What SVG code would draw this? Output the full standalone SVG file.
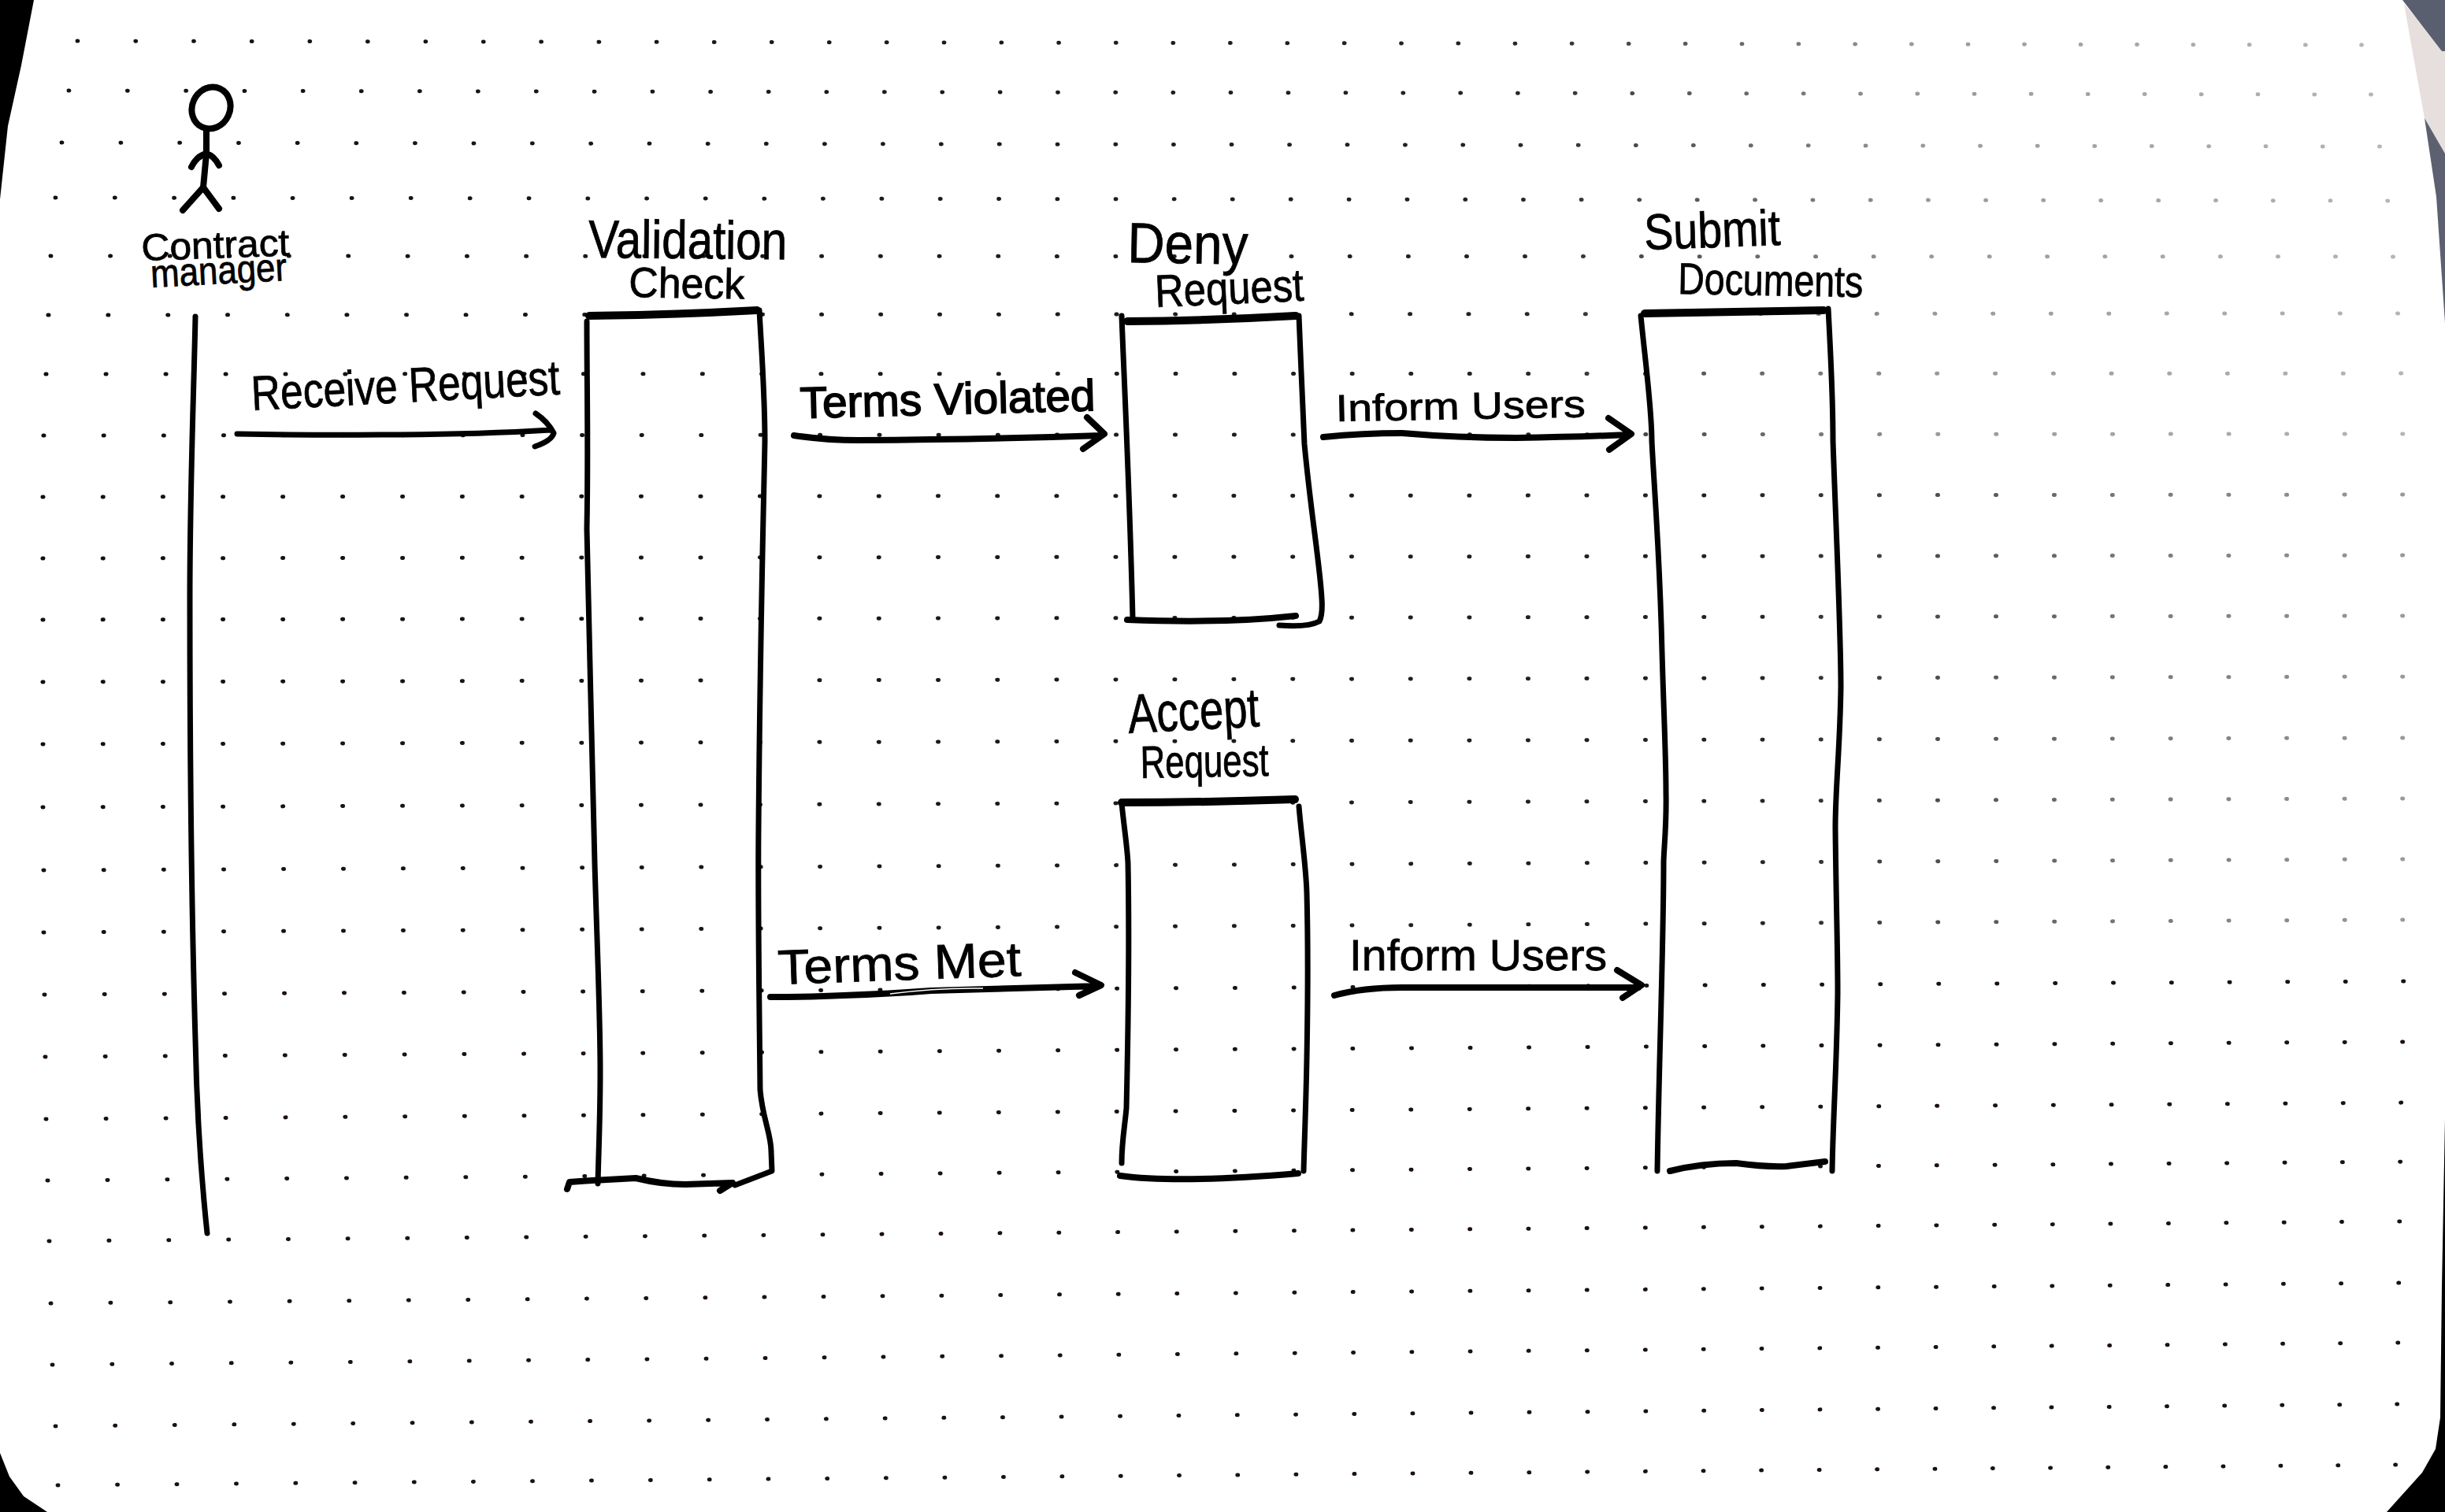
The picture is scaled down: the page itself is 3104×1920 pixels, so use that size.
<svg xmlns="http://www.w3.org/2000/svg" width="3104" height="1920" viewBox="0 0 3104 1920">
<style>
.dot{fill:none;stroke-width:5}
.a{stroke:url(#fadeA)}.b{stroke:url(#fadeB)}.c{stroke:#1c1010}
.ink{fill:none;stroke:#000;stroke-linecap:round;stroke-linejoin:round}
.thin{stroke-width:7}.thick{stroke-width:10}.mid{stroke-width:8}
text{font-family:"Liberation Sans","DejaVu Sans",sans-serif;fill:#000;stroke:#000;stroke-width:.8}
</style>
<defs>
<linearGradient id="fadeA" gradientUnits="userSpaceOnUse" x1="0" y1="0" x2="2983" y2="0"><stop offset="0" stop-color="#111"/><stop offset=".62" stop-color="#222"/><stop offset=".8" stop-color="#999"/><stop offset="1" stop-color="#b5b5b5"/></linearGradient>
<linearGradient id="fadeB" gradientUnits="userSpaceOnUse" x1="0" y1="0" x2="2983" y2="0"><stop offset="0" stop-color="#111"/><stop offset=".72" stop-color="#222"/><stop offset=".88" stop-color="#777"/><stop offset="1" stop-color="#999"/></linearGradient>
<path id="row" d="M0 0H2983" stroke-linecap="round" stroke-dasharray="1 74.9 1 74.8 1 74.8 1 74.7 1 74.6 1 74.6 1 74.5 1 74.4 1 74.3 1 74.3 1 74.2 1 74.1 1 74.1 1 74 1 73.9 1 73.9 1 73.8 1 73.7 1 73.6 1 73.6 1 73.5 1 73.4 1 73.4 1 73.3 1 73.2 1 73.2 1 73.1 1 73 1 72.9 1 72.9 1 72.8 1 72.7 1 72.7 1 72.6 1 72.5 1 72.5 1 72.4 1 72.3 1 72.2 1 72.2 1 2000"/>
</defs>
<rect width="3104" height="1920" fill="#fff"/>
<g id="paper-edges">
<path d="M0 0H43L27 83L10 160L0 253Z" fill="#000"/>
<path d="M0 1845L12 1875L30 1900L60 1920H0Z" fill="#000"/>
<path d="M3104 1421L3100 1634L3098 1800L3092 1840L3075 1870L3030 1920H3104Z" fill="#000"/>
<path d="M3052 5L3104 65V195L3078 150L3060 50Z" fill="#e6dfdd"/>
<path d="M3050 0L3100 65H3104V0Z" fill="#5a5f70"/>
<path d="M3078 150L3104 195V410L3093 250Z" fill="#5c6070"/>
</g>
<g id="dot-grid" class="dot">
<use href="#row" class="a" transform="matrix(.9725 .0017 0 1 98 52)"/>
<use href="#row" class="a" transform="matrix(.9802 .0017 0 1 87 115)"/>
<use href="#row" class="a" transform="matrix(.9869 .0017 0 1 78 181)"/>
<use href="#row" class="a" transform="matrix(.993 .0013 0 1 70 251)"/>
<use href="#row" class="a" transform="matrix(.9973 .0003 0 1 64 325)"/>
<use href="#row" class="a" transform="matrix(1.0003 -.0007 0 1 61 400)"/>
<use href="#row" class="a" transform="matrix(1.0027 -.0003 0 1 58 475)"/>
<use href="#row" class="a" transform="matrix(1.0044 -.0007 0 1 55 553)"/>
<use href="#row" class="b" transform="matrix(1.0047 -.001 0 1 54 631)"/>
<use href="#row" class="b" transform="matrix(1.0047 -.0013 0 1 54 709)"/>
<use href="#row" class="b" transform="matrix(1.0047 -.0017 0 1 54 787)"/>
<use href="#row" class="b" transform="matrix(1.0047 -.0023 0 1 54 866)"/>
<use href="#row" class="b" transform="matrix(1.0047 -.0027 0 1 54 945)"/>
<use href="#row" class="b" transform="matrix(1.0047 -.0037 0 1 54 1025)"/>
<use href="#row" class="b" transform="matrix(1.0044 -.0047 0 1 55 1105)"/>
<use href="#row" class="b" transform="matrix(1.0044 -.0054 0 1 55 1184)"/>
<use href="#row" class="c" transform="matrix(1.0044 -.0057 0 1 56 1263)"/>
<use href="#row" class="c" transform="matrix(1.0037 -.0064 0 1 57 1342)"/>
<use href="#row" class="c" transform="matrix(1.0027 -.007 0 1 58 1421)"/>
<use href="#row" class="c" transform="matrix(1.0017 -.008 0 1 60 1499)"/>
<use href="#row" class="c" transform="matrix(1.0007 -.0084 0 1 62 1576)"/>
<use href="#row" class="c" transform="matrix(.9997 -.0087 0 1 64 1655)"/>
<use href="#row" class="c" transform="matrix(.9987 -.0094 0 1 66 1733)"/>
<use href="#row" class="c" transform="matrix(.997 -.0094 0 1 70 1811)"/>
<use href="#row" class="c" transform="matrix(.9953 -.0087 0 1 73 1886)"/>
</g>
<g id="contract-manager">
<ellipse class="ink mid" cx="268" cy="137" rx="24" ry="27" transform="rotate(25 268 137)"/>
<path class="ink mid" d="M262 165L262 195L258 238"/>
<path class="ink mid" d="M243 212Q250 198 262 195Q272 198 278 210"/>
<path class="ink mid" d="M232 267L258 238L278 265"/>
<path class="ink thin" d="M248 402C246 500 241 620 241 760C241 950 243 1150 248 1320C250 1420 256 1500 263 1566"/>
<text x="180" y="331" font-size="48" textLength="188" lengthAdjust="spacingAndGlyphs" transform="rotate(-2 180 331)">Contract</text>
<text x="192" y="365" font-size="50" textLength="173" lengthAdjust="spacingAndGlyphs" transform="rotate(-3 192 365)">manager</text>
</g>
<g id="validation-check">
<path class="ink thick" d="M748 401Q850 400 961 394"/>
<path class="ink thin" d="M745 408C745 500 747 560 745 672C748 780 752 1000 755 1096C758 1200 762 1290 762 1360C762 1420 760 1460 759 1503"/>
<path class="ink thin" d="M964 394C967 450 971 500 971 560C970 620 965 800 963 1051C962 1150 964 1280 965 1384C968 1420 979 1440 979 1462L980 1487L933 1505"/>
<path class="ink mid" d="M720 1510L723 1501Q765 1498 807 1496Q840 1504 870 1504L930 1502L914 1512"/>
<text x="747" y="327" font-size="68" textLength="252" lengthAdjust="spacingAndGlyphs" transform="rotate(.5 747 327)">Validation</text>
<text x="798" y="377" font-size="54" textLength="147" lengthAdjust="spacingAndGlyphs" transform="rotate(1 798 377)">Check</text>
</g>
<g id="deny-request">
<path class="ink thick" d="M1431 408Q1540 407 1645 401"/>
<path class="ink thin" d="M1424 401C1427 480 1434 620 1438 785"/>
<path class="ink thin" d="M1649 401C1651 450 1654 520 1656 564C1664 650 1676 720 1678 760C1679 775 1677 785 1675 789Q1660 797 1624 794"/>
<path class="ink mid" d="M1431 787Q1555 792 1645 782"/>
<text x="1431" y="333" font-size="72" textLength="153" lengthAdjust="spacingAndGlyphs" transform="rotate(1 1431 333)">Deny</text>
<text x="1467" y="390" font-size="58" textLength="189" lengthAdjust="spacingAndGlyphs" transform="rotate(-2.5 1467 390)">Request</text>
</g>
<g id="accept-request">
<path class="ink thick" d="M1424 1019Q1530 1019 1644 1015"/>
<path class="ink thin" d="M1424 1020C1427 1050 1431 1075 1432 1096C1434 1200 1432 1320 1430 1407C1428 1430 1424 1450 1424 1477"/>
<path class="ink thin" d="M1649 1024C1652 1060 1658 1100 1659 1134C1661 1210 1660 1290 1659 1344C1658 1400 1656 1450 1655 1487"/>
<path class="ink mid" d="M1422 1493Q1496 1503 1648 1490"/>
<text x="1433" y="931" font-size="70" textLength="167" lengthAdjust="spacingAndGlyphs" transform="rotate(-3 1433 931)">Accept</text>
<text x="1448" y="988" font-size="58" textLength="163" lengthAdjust="spacingAndGlyphs" transform="rotate(-1 1448 988)">Request</text>
</g>
<g id="submit-documents">
<path class="ink thick" d="M2088 398Q2200 396 2315 394"/>
<path class="ink thin" d="M2083 401C2090 470 2097 520 2097 560C2100 620 2107 700 2110 828C2112 900 2115 960 2115 1006C2116 1050 2112 1080 2112 1096C2112 1200 2106 1350 2104 1487"/>
<path class="ink thin" d="M2321 392C2324 450 2327 500 2327 560C2330 650 2337 800 2337 872C2336 950 2330 1000 2330 1051C2331 1150 2333 1200 2333 1260C2332 1350 2327 1420 2326 1487"/>
<path class="ink mid" d="M2120 1487Q2160 1477 2204 1477Q2240 1482 2268 1481L2317 1475"/>
<text x="2088" y="317" font-size="64" textLength="173" lengthAdjust="spacingAndGlyphs" transform="rotate(-2 2088 317)">Submit</text>
<text x="2130" y="373" font-size="56" textLength="235" lengthAdjust="spacingAndGlyphs" transform="rotate(1 2130 373)">Documents</text>
</g>
<g id="connectors">
<g id="receive-request">
<path class="ink thin" d="M301 551Q400 553 483 552Q600 552 699 546M680 525Q695 535 703 550Q700 560 679 567"/>
<text x="320" y="521" font-size="62" textLength="392" lengthAdjust="spacingAndGlyphs" transform="rotate(-3 320 521)">Receive Request</text>
</g>
<g id="terms-violated">
<path class="ink mid" d="M1008 553Q1050 559 1089 559Q1250 558 1398 553M1380 530L1402 551L1375 570"/>
<text x="1016" y="531" font-size="56" textLength="375" lengthAdjust="spacingAndGlyphs" transform="rotate(-1.5 1016 531)" style="stroke-width:1.6">Terms Violated</text>
</g>
<g id="inform-users-deny">
<path class="ink mid" d="M1680 555Q1730 550 1780 550Q1850 556 1925 556Q2000 555 2067 552M2042 531L2071 551L2043 571"/>
<text x="1696" y="535" font-size="48" textLength="317" lengthAdjust="spacingAndGlyphs" transform="rotate(-1 1696 535)">Inform Users</text>
</g>
<g id="terms-met">
<path class="ink mid" d="M978 1266Q1030 1266 1071 1264Q1130 1262 1182 1258L1396 1252M1365 1235L1398 1251L1370 1264"/>
<path d="M1130 1262Q1190 1254 1248 1255" fill="none" stroke="#fff" stroke-width="1.5"/>
<text x="988" y="1250" font-size="62" textLength="309" lengthAdjust="spacingAndGlyphs" transform="rotate(-2 988 1250)">Terms Met</text>
</g>
<g id="inform-users-accept">
<path class="ink mid" d="M1694 1264Q1730 1254 1780 1254L2080 1254M2053 1232L2084 1251L2060 1267"/>
<text x="1713" y="1232" font-size="56" textLength="327" lengthAdjust="spacingAndGlyphs">Inform Users</text>
</g>
</g>
</svg>
